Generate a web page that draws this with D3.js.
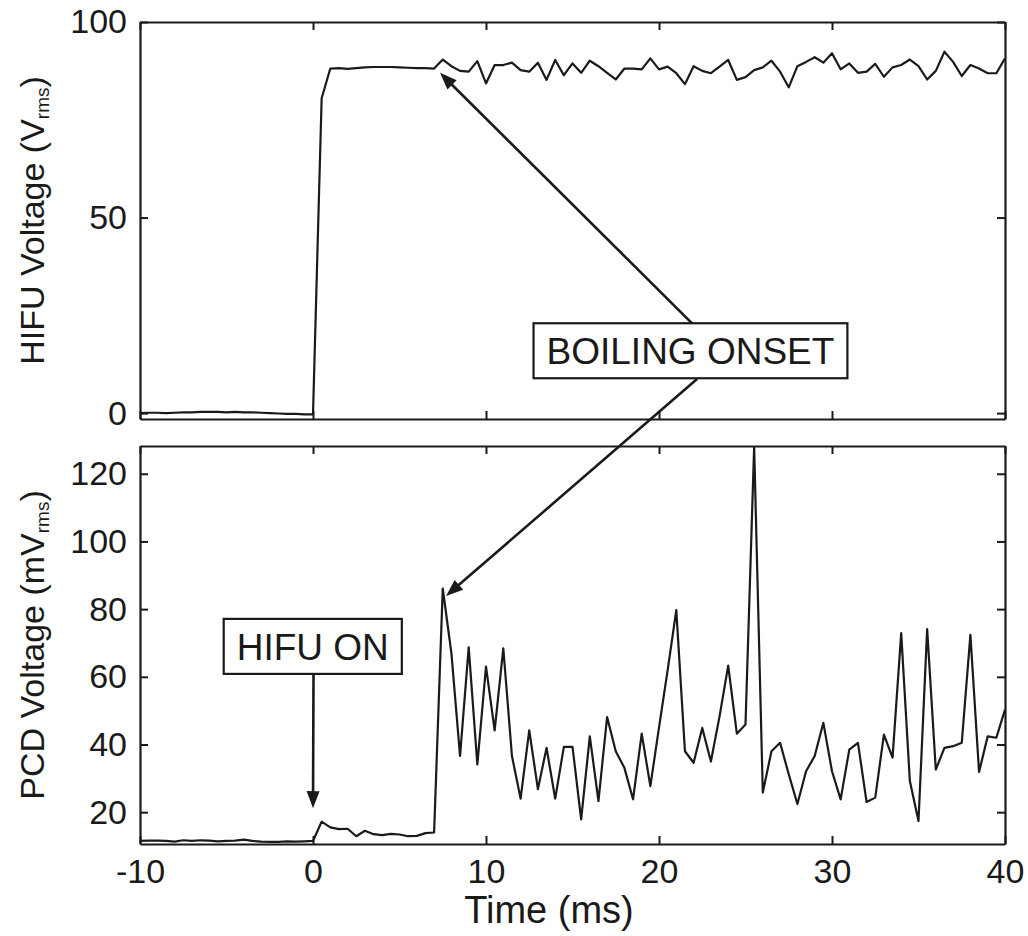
<!DOCTYPE html>
<html><head><meta charset="utf-8">
<script src="https://cdn.jsdelivr.net/npm/d3@7"></script>
<style>
body{margin:0;background:#fff;}
svg text{font-family:"Liberation Sans",Arial,Helvetica,sans-serif;fill:#1a1a1a;}
</style></head><body><svg id="c" width="1028" height="936"></svg>
<script>
const time = [-10,-9.5,-9,-8.5,-8,-7.5,-7,-6.5,-6,-5.5,-5,-4.5,-4,-3.5,-3,-2.5,-2,-1.5,-1,-0.5,
 0,0.5,1,1.5,2,2.5,3,3.5,4,4.5,5,5.5,6,6.5,7,7.5,8,8.5,9,9.5,10,10.5,11,11.5,12,12.5,13,13.5,14,14.5,
 15,15.5,16,16.5,17,17.5,18,18.5,19,19.5,20,20.5,21,21.5,22,22.5,23,23.5,24,24.5,25,25.5,26,26.5,27,27.5,
 28,28.5,29,29.5,30,30.5,31,31.5,32,32.5,33,33.5,34,34.5,35,35.5,36,36.5,37,37.5,38,38.5,39,39.5,40];
const hifuVoltage = [0.0,0.1,0.1,0.0,0.1,0.2,0.2,0.3,0.3,0.3,0.2,0.3,0.2,0.2,0.1,0.0,-0.1,-0.2,-0.2,-0.3,
 -0.3,80.5,88.1,88.2,88.0,88.2,88.4,88.5,88.5,88.5,88.4,88.3,88.2,88.2,88.1,
 90.4,88.7,87.5,87.3,90.0,84.3,89.0,89.0,89.6,87.7,87.3,89.6,85.2,90.3,86.4,89.4,87.0,90.1,
 88.7,87.0,85.3,88.1,88.1,87.9,90.7,87.9,88.6,86.9,84.1,88.7,87.5,86.9,88.6,90.3,85.2,85.9,
 87.7,88.4,90.1,87.3,83.3,88.7,89.8,91.0,89.6,92.0,87.9,89.4,87.0,87.3,89.3,86.0,88.4,89.0,
 90.4,88.7,85.3,87.5,92.4,89.8,86.2,89.0,88.1,86.9,86.9,90.7];
const pcdVoltage = [11.5,11.6,11.6,11.5,11.3,11.7,11.5,11.7,11.6,11.4,11.5,11.6,11.9,11.5,11.3,11.2,11.2,11.4,11.3,11.4,
 11.5,17.2,15.5,15.0,15.1,12.9,14.5,13.5,13.2,13.6,13.4,12.9,13.0,13.8,14.0,
 86.1,67,36.6,68.7,34.1,63,44.2,68.4,36.6,24,44.2,26.8,39,24,39.3,39.3,17.9,42.4,23.3,48.1,38,33.1,23.8,43.2,27.7,
 45,62,79.7,38,34.6,44.9,35,48.3,63.3,43.2,45.9,128,25.8,38,40.5,31.2,22.4,32.1,36.6,46.4,32.1,23.8,38.5,40.5,
 23,24.3,42.9,36.1,72.9,29.2,17.4,74.1,32.6,39,39.5,40.5,72.4,31.9,42.4,42,50.3];
const timeTicks = [-10,0,10,20,30,40];
const hifuTicks = [0,50,100];
const pcdTicks = [20,40,60,80,100,120];
const timeDomain = [-10,40];
const hifuDomain = [-1.5,100];
const pcdDomain = [10.6,128.2];
// annotations in data coordinates
const boilingText = {label:"BOILING ONSET", t:13.5, v:12.5};        // top-panel coords (text start, baseline)
const boilingArrowTop = {from:{t:21.97,v:22.7}, to:{t:7.34,v:87.0}};   // top panel
const boilingArrowBottom = {from:{t:22.2,v:8.7}, to:{t:7.69,v:83.9}}; // from top panel -> bottom panel
const hifuOnText = {label:"HIFU ON", t:-4.41, v:65.0};               // bottom-panel coords
const hifuOnArrow = {from:{t:0.03,v:61.1}, to:{t:0.0,v:21.2}};        // bottom panel

const svg = d3.select("#c");
const L = 140, R = 1005;
const P1 = {top:22, bottom:419}, P2 = {top:446, bottom:844};
const ink = "#1a1a1a";

const x = d3.scaleLinear().domain(timeDomain).range([L,R]);
const y1 = d3.scaleLinear().domain(hifuDomain).range([P1.bottom,P1.top]);
const y2 = d3.scaleLinear().domain(pcdDomain).range([P2.bottom,P2.top]);

function panel(y, P, ticks, showX, id, vals){
  svg.append("clipPath").attr("id",id).append("rect")
    .attr("x",L).attr("y",P.top).attr("width",R-L).attr("height",P.bottom-P.top);
  const line = d3.line().x((d,i)=>x(time[i])).y(d=>y(d));
  svg.append("path").datum(vals).attr("d",line).attr("fill","none")
    .attr("stroke",ink).attr("stroke-width",2.2).attr("stroke-linejoin","round")
    .attr("clip-path",`url(#${id})`);
  const gB = svg.append("g").attr("transform",`translate(0,${P.bottom})`)
    .call(d3.axisBottom(x).tickValues(timeTicks).tickSize(-8).tickSizeOuter(0).tickPadding(15)
      .tickFormat(showX ? d=>String(d) : ""));
  const gT = svg.append("g").attr("transform",`translate(0,${P.top})`)
    .call(d3.axisTop(x).tickValues(timeTicks).tickSize(-8).tickSizeOuter(0).tickFormat(""));
  const gL = svg.append("g").attr("transform",`translate(${L},0)`)
    .call(d3.axisLeft(y).tickValues(ticks).tickSize(-8).tickSizeOuter(0).tickPadding(13));
  const gR = svg.append("g").attr("transform",`translate(${R},0)`)
    .call(d3.axisRight(y).tickValues(ticks).tickSize(-8).tickSizeOuter(0).tickFormat(""));
  [gB,gT,gL,gR].forEach(g=>{
    g.selectAll("path.domain").attr("stroke",ink).attr("stroke-width",2.2);
    g.selectAll(".tick line").attr("stroke",ink).attr("stroke-width",2);
    g.selectAll(".tick text").attr("font-size",34).attr("fill",ink)
      .style("font-family",'"Liberation Sans",Arial,Helvetica,sans-serif');
  });
}
panel(y1, P1, hifuTicks, false, "clip1", hifuVoltage);
panel(y2, P2, pcdTicks, true, "clip2", pcdVoltage);

// axis titles
function ytitle(main, sub, cy){
  const t = svg.append("text").attr("transform",`translate(44,${cy}) rotate(-90)`)
    .attr("text-anchor","middle").attr("font-size",34);
  t.append("tspan").text(main);
  t.append("tspan").attr("font-size",19).attr("dy",5).text(sub);
  t.append("tspan").attr("dy",-5).text(")");
}
ytitle("HIFU Voltage (V","rms",(P1.top+P1.bottom)/2);
ytitle("PCD Voltage (mV","rms",(P2.top+P2.bottom)/2);
svg.append("text").attr("x",549).attr("y",923).attr("text-anchor","middle")
  .attr("font-size",38).text("Time (ms)");

// annotations
function arrow(x0,y0,x1,y1p){
  const dx=x1-x0, dy=y1p-y0, len=Math.hypot(dx,dy), ux=dx/len, uy=dy/len;
  const Lh=17, W=6.5;
  const bx=x1-ux*Lh, by=y1p-uy*Lh;
  svg.append("line").attr("x1",x0).attr("y1",y0).attr("x2",bx+ux*3).attr("y2",by+uy*3)
    .attr("stroke",ink).attr("stroke-width",2.6);
  svg.append("path").attr("d",`M${x1},${y1p}L${bx-uy*W},${by+ux*W}L${bx+uy*W},${by-ux*W}Z`)
    .attr("fill",ink);
}
function boxLabel(a, y){
  const g = svg.append("g");
  const rect = g.append("rect");
  const tx = g.append("text").attr("x",x(a.t)).attr("y",y(a.v)).attr("font-size",37).text(a.label);
  const bb = tx.node().getBBox();
  const base = y(a.v);
  rect.attr("x",bb.x-13).attr("y",base-41).attr("width",bb.width+26).attr("height",55)
    .attr("fill","#fff").attr("stroke",ink).attr("stroke-width",2.2);
}
arrow(x(boilingArrowTop.from.t),y1(boilingArrowTop.from.v),x(boilingArrowTop.to.t),y1(boilingArrowTop.to.v));
arrow(x(boilingArrowBottom.from.t),y1(boilingArrowBottom.from.v),x(boilingArrowBottom.to.t),y2(boilingArrowBottom.to.v));
arrow(x(hifuOnArrow.from.t),y2(hifuOnArrow.from.v),x(hifuOnArrow.to.t),y2(hifuOnArrow.to.v));
boxLabel(boilingText, y1);
boxLabel(hifuOnText, y2);
</script></body></html>
